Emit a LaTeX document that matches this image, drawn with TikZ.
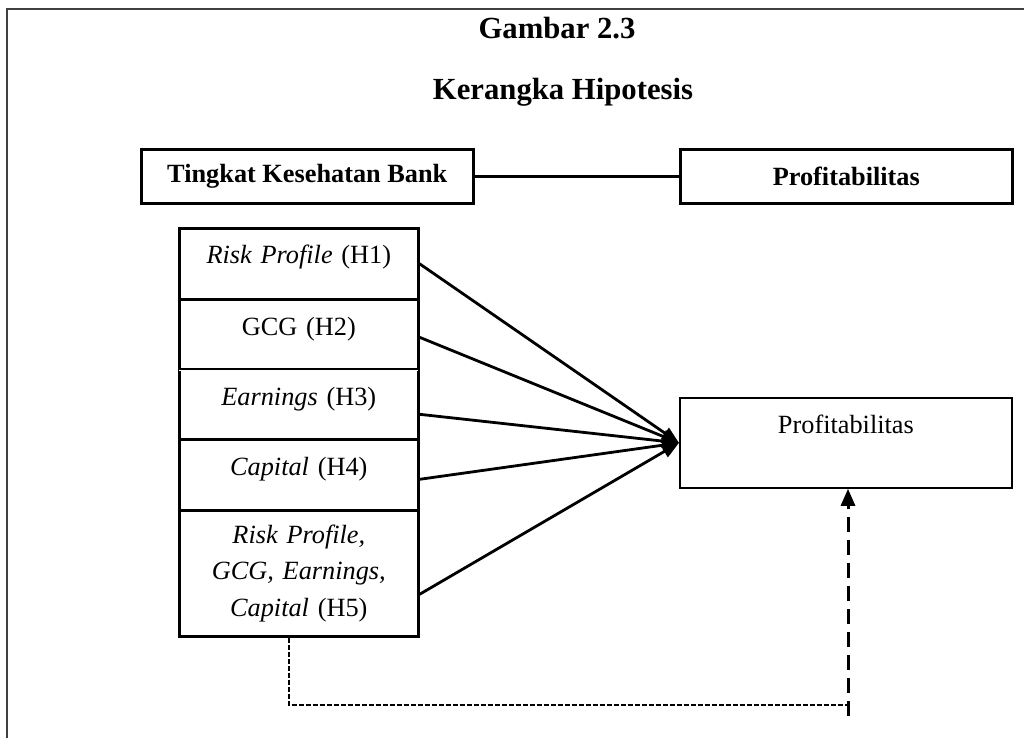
\documentclass[tikz,border=0pt]{standalone}
\usepackage{fontspec}
\setmainfont{Liberation Serif}
\usetikzlibrary{arrows.meta}

\newcommand{\ukuran}{\fontsize{26.3}{36.5}\selectfont}
\newcommand{\ukuranjudul}{\fontsize{30.7}{40}\selectfont}

\tikzset{
  box/.style={draw=black, line width=2.6pt, inner sep=0pt, anchor=north west, align=center, font=\ukuran},
  cell/.style={box, text width=239pt},
  link/.style={draw=black, line width=2.8pt, -{Triangle[length=17pt,width=13pt]}},
}

\begin{document}
\begin{tikzpicture}[x=1pt,y=-1pt]
    \useasboundingbox (0,0) rectangle (1024,738);
    \draw [line width=1.5pt, black!75] (7,738) -- (7,9) -- (1024,9);

    \node[font=\ukuranjudul\bfseries, anchor=base] (judul) at (557,39) {Gambar 2.3};
    \node[font=\ukuranjudul\bfseries, anchor=base] (subjudul) at (563,100) {Kerangka Hipotesis};

    \node[box, font=\ukuran\bfseries, minimum width=332pt, minimum height=54pt] (tkb) at (140,148) {Tingkat Kesehatan Bank};
    \node[box, font=\ukuran\bfseries, minimum width=332pt, minimum height=54pt] (prof) at (679,148) {Profitabilitas};
    \draw [draw=black,-,line width=2.4pt] (tkb) to (prof);

    \node[cell, text height=35pt, text depth=36pt] (c1) at (178,227) {\textit{Risk Profile} (H1)};
    \node[cell, text height=36pt, text depth=34pt] (c2) at (178,298) {GCG (H2)};
    \node[cell, text height=36pt, text depth=34pt] (c3) at (178,368) {\textit{Earnings} (H3)};
    \node[cell, text height=36pt, text depth=35pt] (c4) at (178,438) {\textit{Capital} (H4)};
    \node[cell, minimum height=126pt] (c5) at (178,509) {\textit{Risk Profile,}\\ \textit{GCG, Earnings,}\\ \textit{Capital} (H5)};
    \draw [white, line width=0.9pt] ([xshift=1.3pt]c2.south west) to ([xshift=-1.3pt]c2.south east);

    \node[box, line width=1.8pt, minimum width=332pt, text width=332pt, text height=36pt, text depth=54pt] (res) at (679,397) {Profitabilitas};

    \foreach \c/\s in {c1/0, c2/-3, c3/-10, c4/-4.5, c5/-21}
        \draw [link] ([yshift=\s pt]\c.east) to (res.west);

    \coordinate (sudut1) at (289,705);
    \coordinate (sudut2) at (848,705);
    \coordinate (ujung) at (848,716);
    \draw [line width=1.8pt, dash pattern=on 5pt off 2pt] (c5.south -| sudut1) -- (sudut1) -- (sudut2);
    \draw [line width=3pt, dash pattern=on 15pt off 8pt, -{Triangle[length=17pt,width=14pt]}] (ujung) -- (res.south -| ujung);
\end{tikzpicture}
\end{document}
